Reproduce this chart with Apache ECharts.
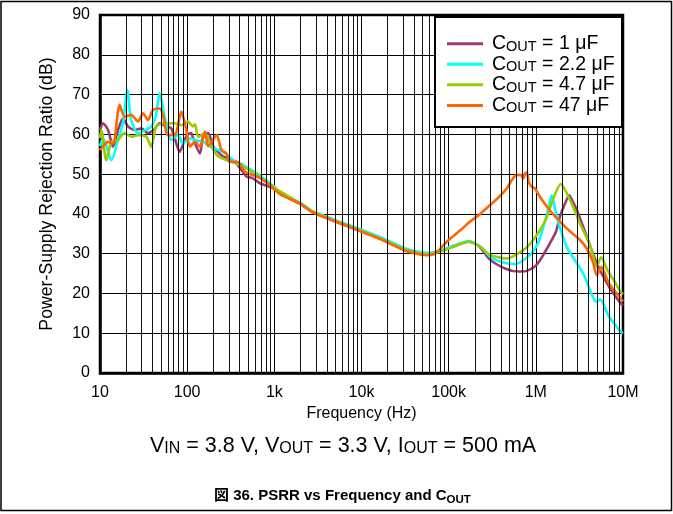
<!DOCTYPE html>
<html>
<head>
<meta charset="utf-8">
<script src="https://cdn.jsdelivr.net/npm/echarts@6/dist/echarts.min.js"></script>
<style>
html,body{margin:0;padding:0;background:#fff;}
#chart{width:673px;height:514px;}
</style>
</head>
<body>
<div id="chart"></div>
<script>
// ---- data: [frequency Hz, PSRR dB] ----
const seriesNames = ['1 μF', '2.2 μF', '4.7 μF', '47 μF'];
const seriesColors = ['#9b3b6e', '#00ffff', '#99cc00', '#ff6600'];

const cout1uF = [[10,61],[10.8,62.8],[12.35,61.1],[14.1,56.9],[16.1,61.1],[18.4,64],[20.9,62],[25,61.1],[29.8,61.5],[35.5,60.3],[41,61],[48.3,62.8],[55,62.2],[65.7,61.5],[72,59],[82,55.6],[93.6,58.6],[100,59.8],[111,60.3],[117,59],[140,55.2],[153,59.8],[174,60.3],[200,56.9],[259,54.4],[300,54],[369,52.6],[481,49.4],[560,49],[686,47.7],[1000,46.3],[1160,45],[1970,42.5],[2800,40.3],[6760,37],[16300,33.8],[33000,30.8],[47000,30.1],[56000,30],[80000,30.6],[120000,32],[168000,33],[220000,32],[298000,28.5],[450000,26.2],[620000,25.5],[718000,25.5],[850000,26],[1000000,27],[1120000,28.4],[1450000,32.6],[1700000,35.5],[1890000,39.3],[2150000,42.5],[2420000,44.7],[2600000,43.5],[2950000,41],[3840000,34.3],[5000000,27.6],[6900000,21.7],[9400000,17.5],[10000000,17]];

const cout2u2F = [[10,57],[10.8,59],[11.8,57.3],[13.5,53.5],[16.1,58.6],[18.4,63],[20.6,71.1],[22.8,63.6],[27.3,60.3],[32.5,61],[38.8,62],[44,65],[48.3,70.3],[55.2,64.4],[65.7,58.6],[78.5,59.8],[89.6,57.7],[107.6,59],[125,58.5],[153,58.1],[183,56.9],[259,55.6],[338,53.5],[420,52.5],[628,50.2],[1000,46.8],[1160,45.2],[1970,42.8],[2800,40.6],[6760,37.4],[16300,34.2],[33000,31.2],[47000,30.4],[56000,30.2],[80000,30.8],[120000,32.2],[168000,33.2],[230000,31.8],[298000,29.3],[400000,27.9],[575000,27.4],[857000,29.7],[1050000,32.5],[1220000,36.8],[1400000,41.5],[1520000,44.7],[1600000,43],[1740000,39.3],[2260000,31.7],[3500000,25],[5000000,17.9],[5450000,18.5],[6900000,14.2],[9400000,10.4],[10000000,10]];

const cout4u7F = [[10,59],[10.35,61.1],[11.8,53.5],[13.5,58.1],[16.1,58.6],[19.2,60.3],[22.8,59.4],[27.3,59.8],[33.9,59.4],[38.8,56.9],[44.2,62],[55.2,62.8],[71.8,62.8],[85.7,62.3],[102,63.2],[117,62],[123,62.5],[134,59.4],[160,60.3],[183,57.7],[218,54.8],[283,53.5],[369,52.6],[481,51.4],[628,49.8],[896,47.3],[1100,46],[1970,42.7],[2800,40.5],[6760,37.2],[16300,33.9],[33000,30.9],[47000,30.1],[56000,29.9],[80000,30.5],[120000,32],[168000,33],[230000,31.8],[298000,29.7],[463000,28.8],[718000,30.9],[900000,33],[1120000,36],[1300000,38.5],[1520000,42.7],[1930000,47.5],[2470000,43.5],[3210000,37.6],[4180000,32.2],[5000000,26.7],[5300000,28],[5600000,29.1],[6600000,25.9],[8000000,23],[9400000,20.4],[10000000,19.8]];

const cout47uF = [[10,56],[10.8,56.9],[12.35,58.1],[14.1,57.7],[16.8,67.4],[19.2,64.4],[22.8,64.9],[27.3,63.2],[31.1,65.3],[35.5,63.6],[40.5,66.1],[48.3,66.5],[52.8,64.9],[60.2,59.8],[71.8,59.8],[85.7,65.7],[98,61],[107.6,56.9],[123,58.1],[140,56.9],[160,60.7],[174,57],[218,59.8],[248,56],[283,55.2],[309,53.1],[369,53.1],[403,52.6],[461,50.6],[628,49.4],[749,48.5],[937,46.8],[1160,45],[1970,42.6],[2800,40.3],[6760,37],[16300,33.7],[33000,30.6],[47000,29.8],[56000,29.6],[70000,30],[95000,33],[135000,35.8],[175000,38],[230000,40],[298000,42.2],[380000,44.3],[463000,46.4],[530000,48.5],[600000,49.8],[680000,49.7],[718000,48.9],[760000,50.3],[790000,50.4],[830000,48],[900000,46.8],[970000,46.5],[1100000,44.5],[1400000,41.3],[1900000,38],[2500000,35.5],[3200000,33.5],[3840000,31.3],[4500000,28],[5000000,24.6],[5300000,25.5],[5600000,26.7],[6900000,22.5],[9400000,18.8],[10000000,18]];

const seriesData = [cout1uF, cout2u2F, cout4u7F, cout47uF];

// axis ticks
const xTickLabels = {10:'10',100:'100',1000:'1k',10000:'10k',100000:'100k',1000000:'1M',10000000:'10M'};
const yMin = 0, yMax = 90, yStep = 10;
const minorGridFreqs = [];
[10,100,1000,10000,100000,1000000].forEach(function(d){
  [2,3,4,5,6,7,8,9].forEach(function(m){ minorGridFreqs.push(d*m); });
});

const FONT = '"Liberation Sans", Arial, "Noto Sans CJK JP", sans-serif';

const chart = echarts.init(document.getElementById('chart'), null, {renderer:'canvas'});

const series = [{
  name: '_grid', type: 'line', data: [], silent: true, z: 1,
  markLine: {
    silent: true, symbol: ['none','none'], animation: false,
    label: {show:false},
    lineStyle: {color:'#111', width:1, type:'solid'},
    emphasis: {disabled:true},
    data: minorGridFreqs.map(function(f){ return {xAxis: f}; })
  }
}];
seriesNames.forEach(function(n, i){
  series.push({
    name: n, type: 'line', data: seriesData[i], showSymbol: false, symbol:'none',
    smooth: 0.25, z: 3,
    lineStyle: {color: seriesColors[i], width: 2.6},
    itemStyle: {color: seriesColors[i]},
    emphasis: {disabled: true}
  });
});

const option = {
  animation: false,
  backgroundColor: '#fff',
  textStyle: {fontFamily: FONT},
  grid: {left: 100, right: 50, top: 15, bottom: 141, show: true, borderColor: '#000', borderWidth: 2.5, backgroundColor: 'transparent'},
  xAxis: {
    type: 'log', logBase: 10, min: 10, max: 10000000, splitNumber: 6,
    name: 'Frequency (Hz)', nameLocation: 'middle', nameGap: 32,
    nameTextStyle: {fontSize: 16, color: '#000', fontFamily: FONT},
    axisLine: {show: true, lineStyle: {color:'#000', width: 2.5}},
    axisTick: {show: false},
    splitLine: {show: true, lineStyle: {color: '#000', width: 1}},
    axisLabel: {fontSize: 16, color: '#000', margin: 12, fontFamily: FONT,
      formatter: function(v){ const k = Math.round(v); return xTickLabels[k] !== undefined ? xTickLabels[k] : ''; }}
  },
  yAxis: {
    type: 'value', min: yMin, max: yMax, interval: yStep,
    name: 'Power-Supply Rejection Ratio (dB)', nameLocation: 'middle', nameGap: 44,
    nameTextStyle: {fontSize: 17.7, color: '#000', fontFamily: FONT},
    axisLine: {show: true, lineStyle: {color:'#000', width: 2.5}},
    axisTick: {show: false},
    splitLine: {show: true, lineStyle: {color: '#000', width: 1}},
    axisLabel: {fontSize: 16, color: '#000', margin: 10, fontFamily: FONT}
  },
  legend: {
    show: true, orient: 'vertical', left: 447, top: 34, z: 120,
    data: seriesNames,
    icon: 'rect', itemWidth: 36, itemHeight: 3, itemGap: 0.8,
    padding: 0,
    selectedMode: false,
    formatter: function(n){ return '{f|C}{s|OUT}{c| = ' + n + '}'; },
    textStyle: {
      color: '#000', fontFamily: FONT, fontSize: 19.5,
      rich: {
        f: {fontSize: 19.5, lineHeight: 20, padding: [0,0,0,4], color:'#000', fontFamily: FONT},
        c: {fontSize: 19.5, lineHeight: 20, color:'#000', fontFamily: FONT},
        s: {fontSize: 14.5, lineHeight: 10, verticalAlign: 'bottom', color:'#000', fontFamily: FONT}
      }
    }
  },
  title: [{
    text: '{n|V}{s|IN}{n| = 3.8 V, V}{s|OUT}{n| = 3.3 V, I}{s|OUT}{n| = 500 mA}',
    left: 145, top: 430,
    textStyle: {fontWeight: 'normal', rich: {
      n: {fontSize: 21.5, fontWeight: 'normal', lineHeight: 22, color:'#000', fontFamily: FONT},
      s: {fontSize: 16, fontWeight: 'normal', lineHeight: 10, verticalAlign:'bottom', color:'#000', fontFamily: FONT}
    }}
  }, {
    text: '{b|図 36. PSRR vs Frequency and C}{s|OUT}',
    left: 209, top: 481,
    textStyle: {rich: {
      b: {fontSize: 15, fontWeight: 'bold', lineHeight: 20, color:'#000', fontFamily: FONT},
      s: {fontSize: 11.5, fontWeight: 'bold', lineHeight: 8, verticalAlign:'bottom', color:'#000', fontFamily: FONT}
    }}
  }],
  graphic: [
    {type: 'rect', z: 110, shape: {x: 435, y: 17, width: 187, height: 110},
     style: {fill: '#fff', stroke: '#000', lineWidth: 2}},
    {type: 'rect', z: 0, silent: true, shape: {x: 1, y: 1.5, width: 670.5, height: 509},
     style: {fill: 'none', stroke: '#000', lineWidth: 1.5}}
  ],
  series: series
};
chart.setOption(option);
</script>
</body>
</html>
